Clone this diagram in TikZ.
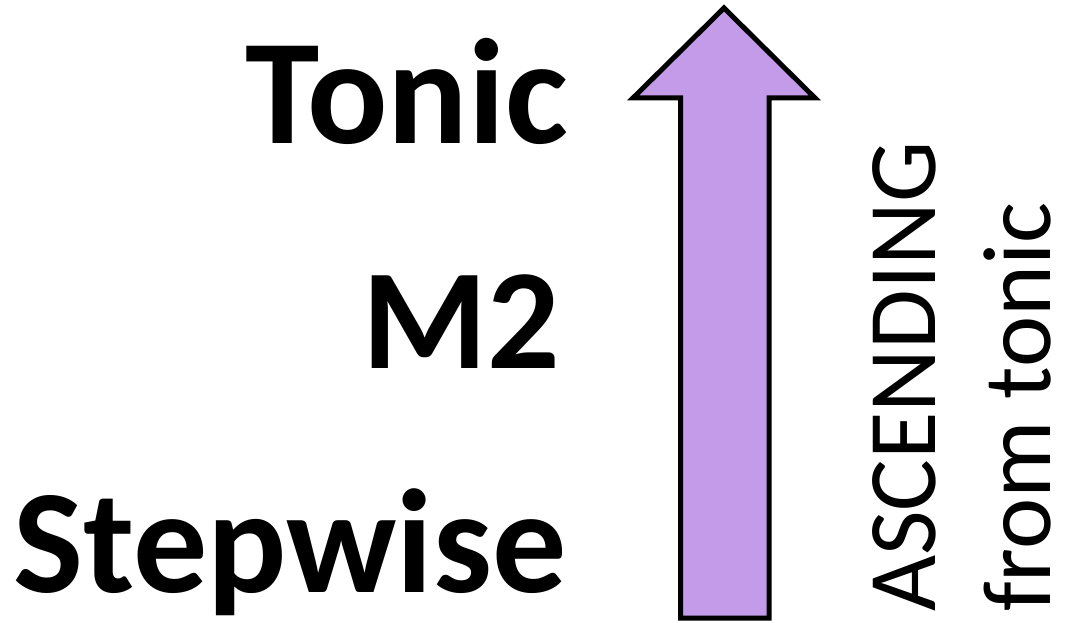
\documentclass[tikz,border=0pt]{standalone}
\usepackage{fontspec}
\setmainfont{Carlito}
\begin{document}
\begin{tikzpicture}[x=1pt,y=-1pt,
  big/.style={font=\bfseries\fontsize{150}{150}\selectfont, inner sep=0pt, anchor=base east},
  side/.style={font=\fontsize{97}{97}\selectfont, inner sep=0pt, anchor=base west, rotate=90}]
\useasboundingbox (0,0) rectangle (1075,623);
\fill[white] (0,0) rectangle (1075,623);
\draw[line width=5pt, fill={rgb,255:red,195;green,155;blue,232}, line join=miter]
  (680.5,618) -- (680.5,98) -- (633,98) -- (724,8) -- (815,98) -- (769,98) -- (769,618) -- cycle;
\node[big] (tonic) at (568,143) {Tonic};
\node[big, font=\bfseries\fontsize{143}{143}\selectfont] (m2) at (560,368) {M2};
\node[big, font=\bfseries\fontsize{148}{148}\selectfont] (step) at (567,592) {Stepwise};
\node[side] (asc) at (935,612) {ASCENDING};
\node[side] (from) at (1050,612) {from tonic};
\end{tikzpicture}
\end{document}
